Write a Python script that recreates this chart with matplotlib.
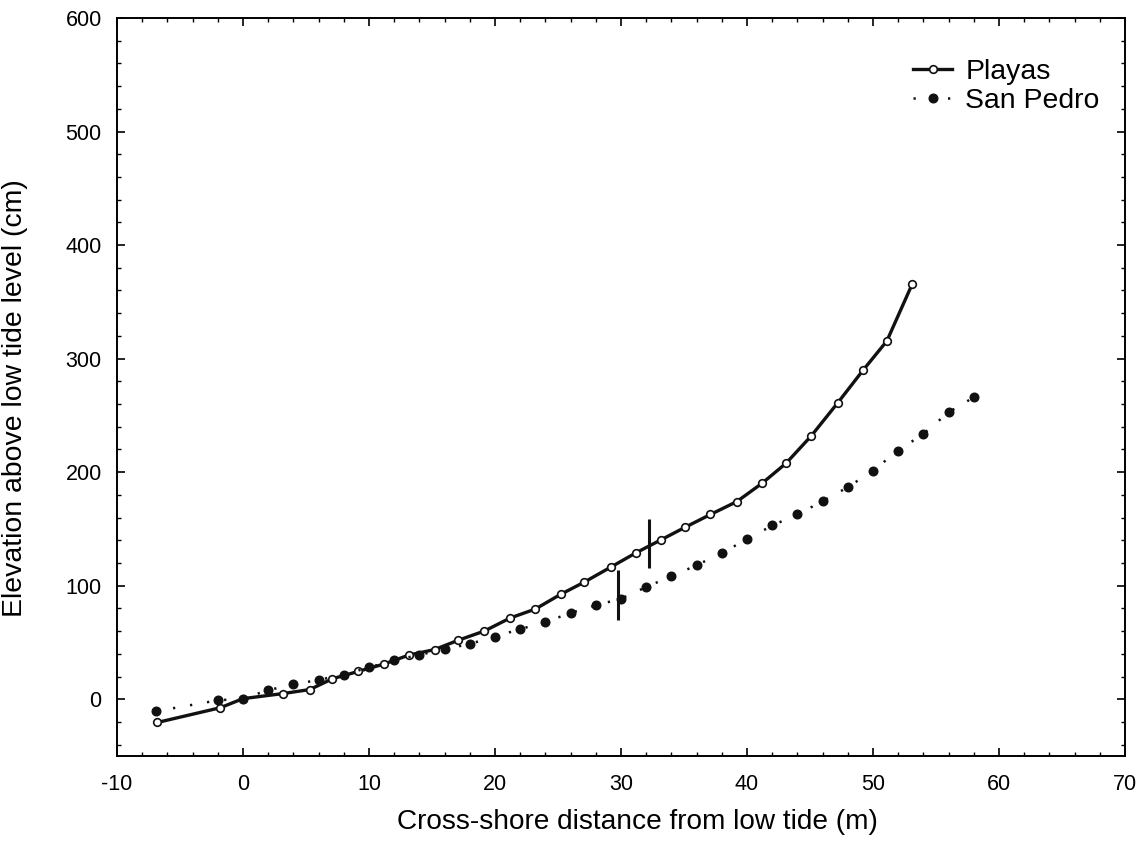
import matplotlib
matplotlib.use("Agg")
import matplotlib.pyplot as plt
from matplotlib.ticker import MultipleLocator

plt.rcParams['font.family'] = ['Liberation Sans', 'DejaVu Sans']
plt.rcParams['axes.unicode_minus'] = False

# Playas profile
playas_x = [-6.8, -1.8, 0.0, 3.2, 5.3, 7.1, 9.15, 11.2, 13.2, 15.2, 17.1, 19.15,
            21.2, 23.2, 25.2, 27.1, 29.2, 31.2, 33.2, 35.1, 37.1, 39.2, 41.2,
            43.1, 45.1, 47.2, 49.2, 51.1, 53.1]
playas_y = [-20.5, -7.5, 0.5, 5.0, 8.5, 18.0, 24.5, 31.0, 39.0, 43.7, 52.0, 60.0,
            71.5, 79.4, 92.3, 103.2, 116.4, 129.0, 140.5, 151.5, 162.7, 174.1, 190.2,
            207.8, 231.9, 261.0, 289.6, 315.5, 365.3]

# San Pedro profile
sanpedro_x = [-6.9, -2.0, 0.0, 2.0, 4.0, 6.0, 8.0, 10.0, 12.0, 14.0, 16.0, 18.0,
              20.0, 22.0, 24.0, 26.0, 28.0, 30.0, 32.0, 34.0, 36.0, 38.0, 40.0,
              42.0, 44.0, 46.0, 48.0, 50.0, 52.0, 54.0, 56.0, 58.0]
sanpedro_y = [-10.6, -1.0, 0.5, 8.0, 13.0, 17.0, 21.7, 28.0, 34.3, 39.0, 44.0, 48.7,
              55.2, 61.7, 68.0, 75.9, 82.7, 88.5, 98.8, 108.4, 117.9, 129.0, 140.7,
              153.0, 162.7, 174.4, 186.7, 201.4, 219.0, 233.7, 252.7, 265.9]

# Vertical markers (x, ymin, ymax)
bar_x = [32.25, 29.8]
bar_ymin = [115.5, 70.0]
bar_ymax = [158.5, 113.5]

fig = plt.figure(figsize=(11.39, 8.41), dpi=100)
ax = fig.add_axes([0.1027, 0.1011, 0.8850, 0.8775])

ax.plot(playas_x, playas_y, color='#111111', lw=2.4, marker='o', ms=5.5,
        mfc='white', mec='#111111', mew=1.2, label='Playas', zorder=3)
ax.plot(sanpedro_x, sanpedro_y, color='#111111', lw=1.8, linestyle=(0, (0.9, 6)),
        marker='o', ms=6.2, mfc='#111111', mec='#111111', label='San Pedro', zorder=4)

ax.vlines(bar_x, bar_ymin, bar_ymax, color='#111111', lw=2.2, zorder=5)

ax.set_xlim(-10, 70)
ax.set_ylim(-50, 600)
ax.xaxis.set_major_locator(MultipleLocator(10))
ax.xaxis.set_minor_locator(MultipleLocator(2))
ax.yaxis.set_major_locator(MultipleLocator(100))
ax.yaxis.set_minor_locator(MultipleLocator(20))
ax.tick_params(which='both', direction='in', top=True, right=True, labelsize=15.5)
ax.tick_params(axis='x', which='major', pad=13)
ax.tick_params(axis='y', which='major', pad=11)
ax.tick_params(which='major', length=6, width=1.2)
ax.tick_params(which='minor', length=3, width=1.0)
for s in ax.spines.values():
    s.set_linewidth(1.4)

ax.set_xlabel('Cross-shore distance from low tide (m)', fontsize=20.2)
ax.set_ylabel('Elevation above low tide level (cm)', fontsize=20.4)
ax.xaxis.set_label_coords(0.516, -0.072)
ax.yaxis.set_label_coords(-0.088, 0.485)

fig.legend(handles=ax.get_lines(), loc='upper left', bbox_to_anchor=(0.8016, 0.930),
           frameon=False, fontsize=20.4, borderpad=0, borderaxespad=0,
           handlelength=1.38, handletextpad=0.46, labelspacing=0.11)

fig.savefig('out.png', dpi=100)
